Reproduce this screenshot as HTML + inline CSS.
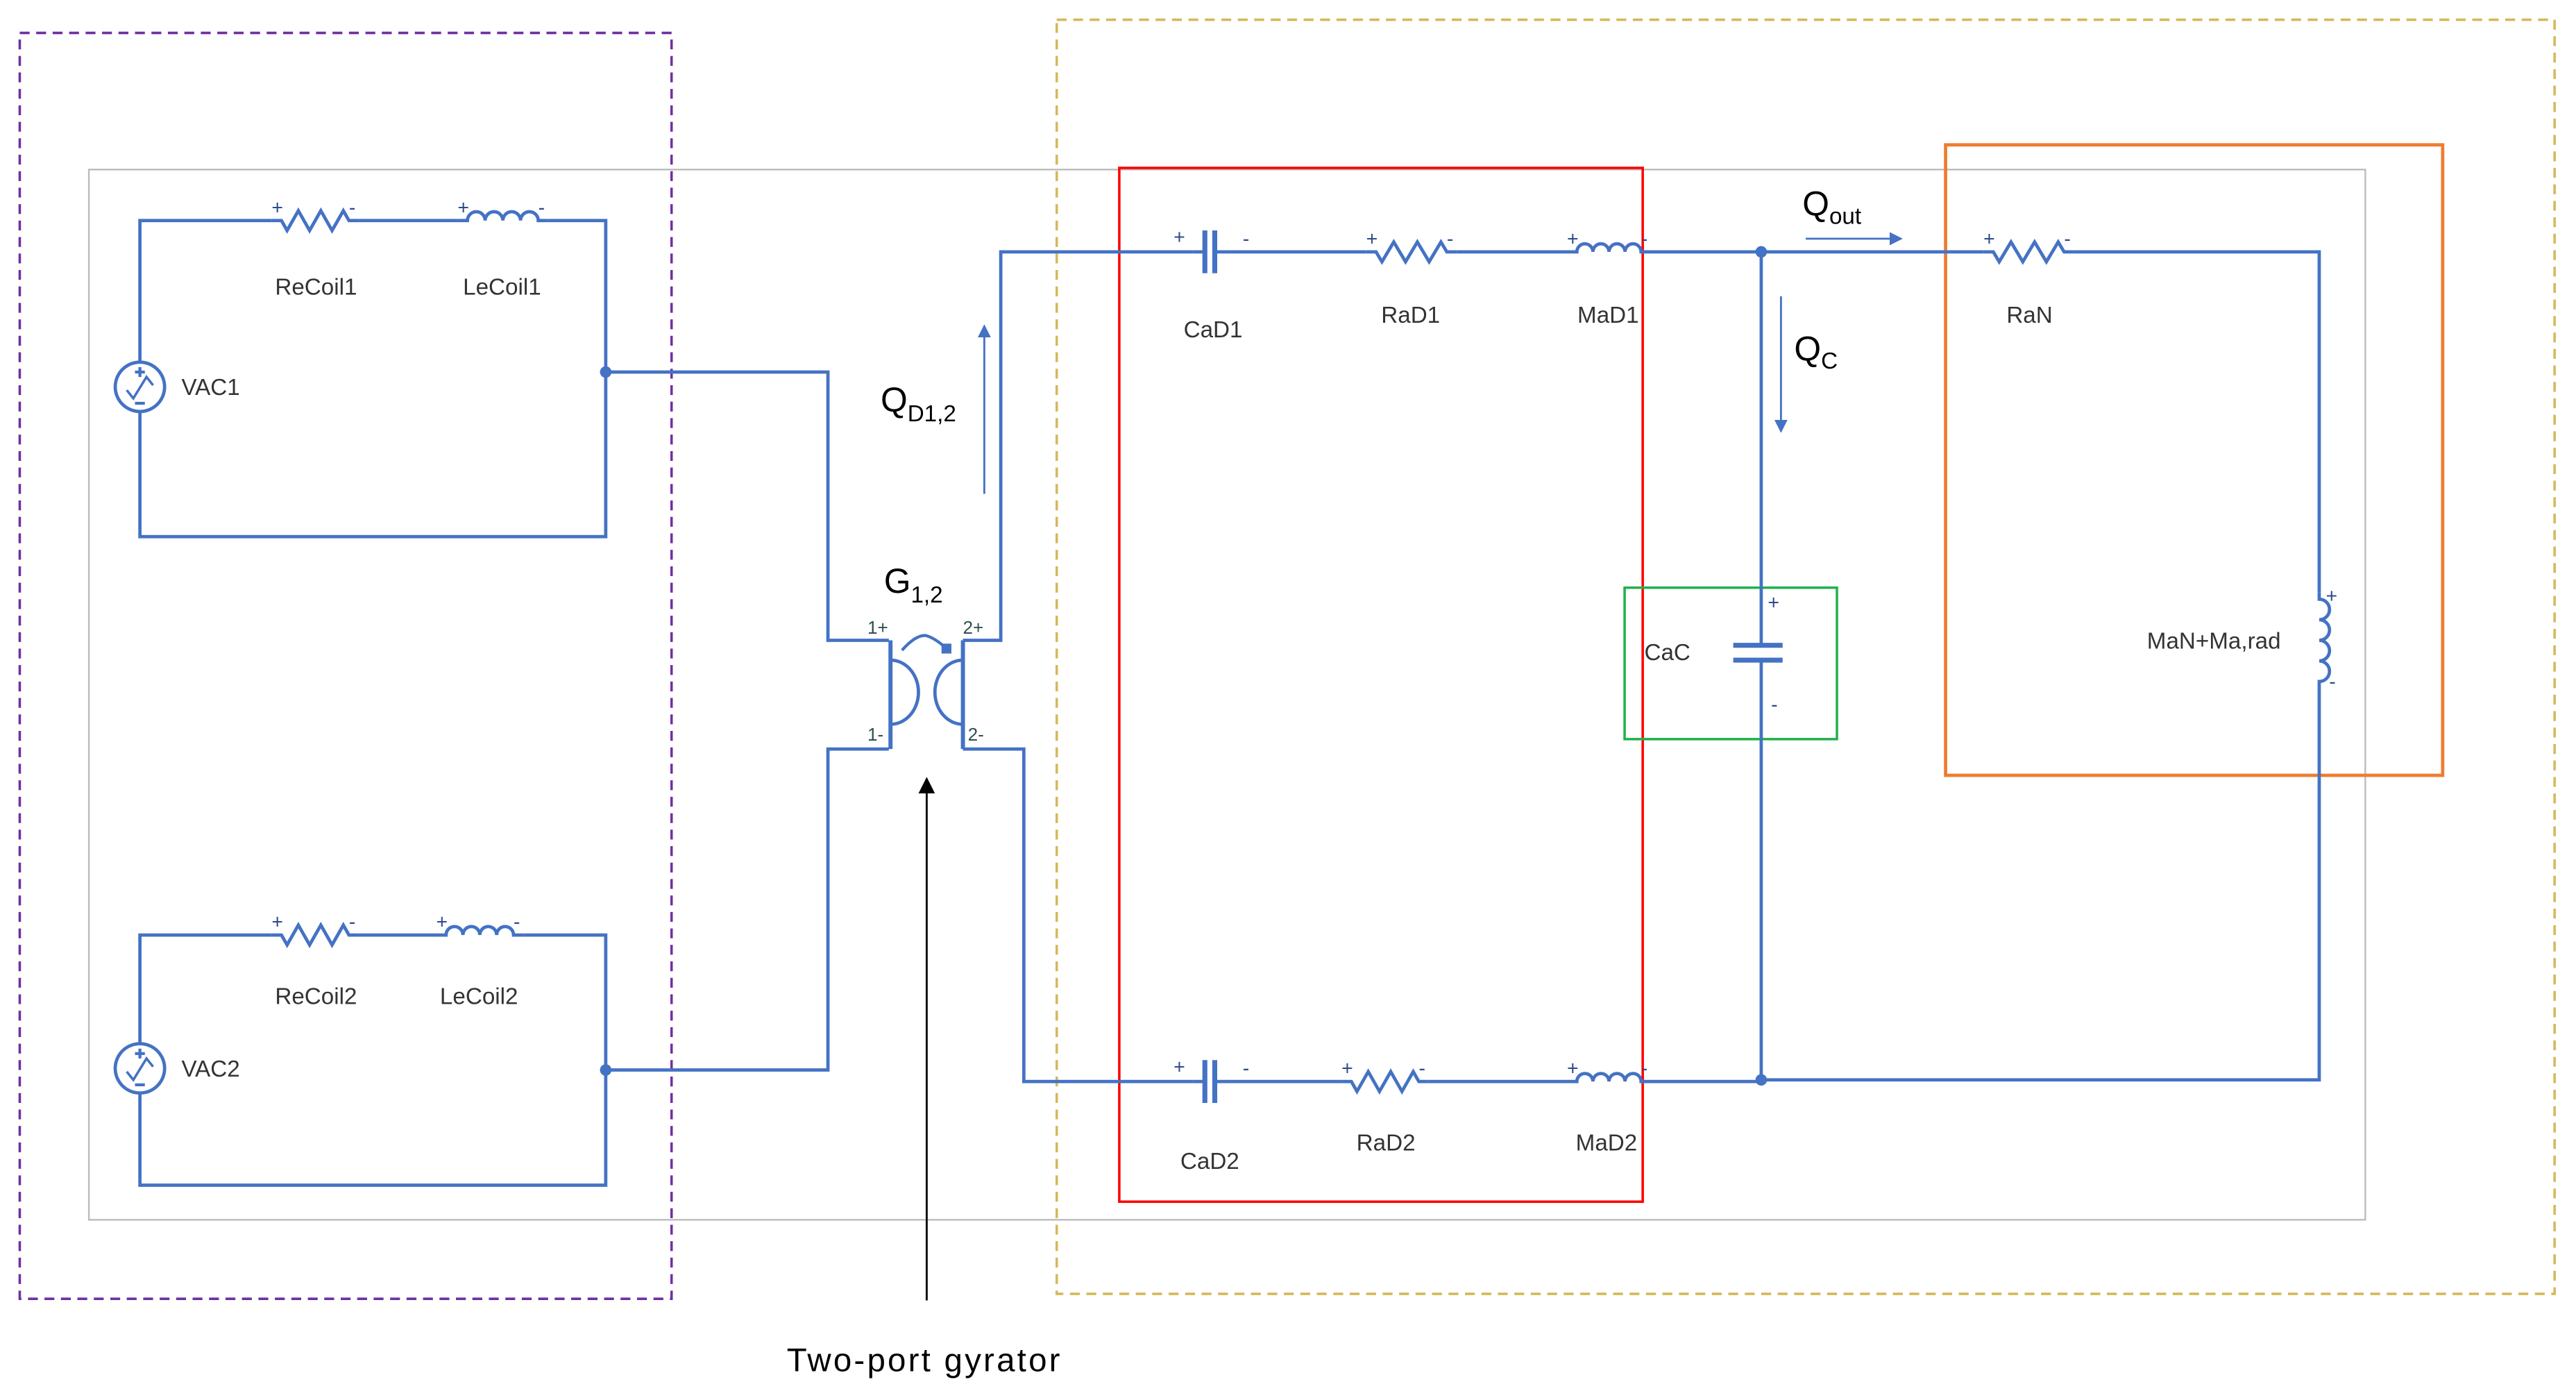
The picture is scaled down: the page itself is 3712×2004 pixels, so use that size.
<!DOCTYPE html>
<html><head><meta charset="utf-8"><style>
html,body{margin:0;padding:0;background:#fff;}
svg{display:block;}
text{font-family:"Liberation Sans",sans-serif;}
.l{font-size:14px;fill:#333;text-anchor:middle;}
.pm{font-size:11px;fill:#2f4f4f;}
</style></head><body>
<svg id="s" width="3712" height="2004" viewBox="0 0 1565 845" preserveAspectRatio="none" xmlns="http://www.w3.org/2000/svg">
<defs>
<marker id="ab" markerWidth="8" markerHeight="8" refX="7" refY="4" orient="auto" markerUnits="userSpaceOnUse"><path d="M0,0 L8,4 L0,8 z" fill="#4472c4"/></marker>
<marker id="ak" markerWidth="10" markerHeight="10" refX="9" refY="5" orient="auto" markerUnits="userSpaceOnUse"><path d="M0,0 L10,5 L0,10 z" fill="#000"/></marker>
</defs>
<rect x="54" y="103" width="1383" height="638" fill="none" stroke="#bbb" stroke-width="1"/>
<rect x="12" y="20" width="396" height="769" fill="none" stroke="#7030a0" stroke-width="1.5" stroke-dasharray="6,4"/>
<rect x="642" y="12" width="910" height="774" fill="none" stroke="#d6b85a" stroke-width="1.5" stroke-dasharray="6,4"/>
<rect x="680" y="102" width="318" height="628" fill="none" stroke="#ff0000" stroke-width="1.5"/>
<rect x="987" y="357" width="129" height="92" fill="none" stroke="#22b14c" stroke-width="1.5"/>
<rect x="1182" y="88" width="302" height="383" fill="none" stroke="#ed7d31" stroke-width="2"/>
<g id="w" fill="none" stroke="#4472c4" stroke-width="2">
<path d="M85,220 V134 H165 M218,134 H278 M333,134 H368 V326 H85 V250"/>
<path d="M368,226 H503 V389 H540"/>
<path d="M85,635 V568 H165 M218,568 H265 M318,568 H368 V720 H85 V664"/>
<path d="M368,650 H503 V455 H540"/>
<path d="M541,389 V455 M585,389 V455" stroke-width="2.5"/>
<path d="M541,401 A17,19.5 0 0 1 541,440 M585,401 A17,19.5 0 0 0 585,440"/>
<path d="M548,395 Q556,386 562,386 Q567,387 574,393" stroke-width="1.8"/>
<path d="M585,389 H608 V153 H725 M745,153 H830 M885,153 H952 M1003,153 H1205 M1260,153 H1409 V360 M1409,418 V656 H1070"/>
<path d="M585,455 H622 V657 H725 M745,657 H815 M868,657 H952 M1003,657 H1070"/>
<path d="M1070,153 V392 M1070,401 V656"/>
</g>
<g fill="#4472c4">
<circle cx="368" cy="226" r="3.5"/><circle cx="368" cy="650" r="3.5"/>
<circle cx="1070" cy="153" r="3.5"/><circle cx="1070" cy="656" r="3.5"/>
<rect x="572" y="391" width="6" height="6"/>
</g>
<g id="comp" fill="none" stroke="#4472c4" stroke-width="2"></g>
<line x1="598" y1="300" x2="598" y2="198" stroke="#4472c4" stroke-width="1.2" marker-end="url(#ab)"/>
<line x1="1097" y1="145" x2="1155" y2="145" stroke="#4472c4" stroke-width="1.2" marker-end="url(#ab)"/>
<line x1="1082" y1="180" x2="1082" y2="262" stroke="#4472c4" stroke-width="1.2" marker-end="url(#ab)"/>
<line x1="563" y1="790" x2="563" y2="473" stroke="#000" stroke-width="1.2" marker-end="url(#ak)"/>
<text class="l" x="192" y="179">ReCoil1</text>
<text class="l" x="305" y="179">LeCoil1</text>
<text class="l" x="128" y="240">VAC1</text>
<text class="l" x="192" y="610">ReCoil2</text>
<text class="l" x="291" y="610">LeCoil2</text>
<text class="l" x="128" y="654">VAC2</text>
<text class="l" x="737" y="205">CaD1</text>
<text class="l" x="857" y="196">RaD1</text>
<text class="l" x="977" y="196">MaD1</text>
<text class="l" x="1233" y="196">RaN</text>
<text class="l" x="735" y="710">CaD2</text>
<text class="l" x="842" y="699">RaD2</text>
<text class="l" x="976" y="699">MaD2</text>
<text class="l" x="1013" y="401">CaC</text>
<text class="l" x="1345" y="394">MaN+Ma,rad</text>
<text class="pm" x="527" y="385">1+</text>
<text class="pm" x="585" y="385">2+</text>
<text class="pm" x="527" y="450">1-</text>
<text class="pm" x="588" y="450">2-</text>
<text x="535" y="250" font-size="21" fill="#000">Q<tspan font-size="14" dy="6">D1,2</tspan></text>
<text x="537" y="360" font-size="21" fill="#000">G<tspan font-size="14" dy="6">1,2</tspan></text>
<text x="1095" y="131" font-size="21" fill="#000">Q<tspan font-size="14" dy="5">out</tspan></text>
<text x="1090" y="219" font-size="21" fill="#000">Q<tspan font-size="14" dy="5">C</tspan></text>
<text x="561" y="833" font-size="20" fill="#000" text-anchor="middle" textLength="166">Two-port gyrator</text>
</svg>
<script>
var g=document.getElementById('comp'),NS='http://www.w3.org/2000/svg';
function P(d,extra){var p=document.createElementNS(NS,'path');p.setAttribute('d',d);if(extra)for(var k in extra)p.setAttribute(k,extra[k]);g.appendChild(p);}
function T(x,y,s){var t=document.createElementNS(NS,'text');t.setAttribute('x',x);t.setAttribute('y',y);t.setAttribute('font-size','12');t.setAttribute('fill','#2e4a8a');t.setAttribute('stroke','none');t.textContent=s;g.appendChild(t);}
function R(x0,x1,y){var a=x0+6,b=x1-6,n=6,st=(b-a)/n,d='M'+x0+','+y+' H'+a;for(var i=0;i<n;i++){d+=' L'+(a+st*(i+0.5))+','+(y+(i%2?-6:6));}d+=' L'+b+','+y+' H'+x1;P(d);T(x0,y-4,'+');T(x1-6,y-4,'-');}
function L(x0,x1,y){var a=x0+6,b=x1-6,n=4,st=(b-a)/n,d='M'+x0+','+y+' H'+a;for(var i=0;i<n;i++){d+=' a'+st/2+','+st/2+' 0 0 1 '+st+',0';}d+=' H'+x1;P(d);T(x0,y-4,'+');T(x1-6,y-4,'-');}
function LV(x,y0,y1){var a=y0+4,b=y1-4,n=4,st=(b-a)/n,d='M'+x+','+y0+' V'+a;for(var i=0;i<n;i++){d+=' a'+st/2+','+st/2+' 0 0 1 0,'+st;}d+=' V'+y1;P(d);T(x+4,y0+6,'+');T(x+6,y1,'-');}
function C(x,y){P('M'+(x-10)+','+y+' H'+(x-3)+' M'+(x+3)+','+y+' H'+(x+10));P('M'+(x-3)+','+(y-13)+' V'+(y+13)+' M'+(x+3)+','+(y-13)+' V'+(y+13),{'stroke-width':'3'});T(x-22,y-5,'+');T(x+20,y-4,'-');}
function V(x,y){P('M'+x+','+(y-15)+' a15,15 0 1 0 0.01,0');P('M'+(x-8)+','+(y+2)+' L'+(x-4)+','+(y+7)+' L'+(x+4)+','+(y-6)+' L'+(x+8)+','+(y-1),{'stroke-width':'1.5'});P('M'+(x-3)+','+(y-9)+' H'+(x+3)+' M'+x+','+(y-12)+' V'+(y-6)+' M'+(x-3)+','+(y+10)+' H'+(x+3),{'stroke-width':'1.8'});}
R(165,218,134);L(278,333,134);V(85,235);
R(165,218,568);L(265,318,568);V(85,649);
C(735,153);R(830,885,153);L(952,1003,153);R(1205,1260,153);
C(735,657);R(815,868,657);L(952,1003,657);
LV(1409,360,418);
P('M1053,392 H1083 M1053,401 H1083',{'stroke-width':'3'});
T(1074,370,'+');T(1076,432,'-');
</script>
</body></html>
